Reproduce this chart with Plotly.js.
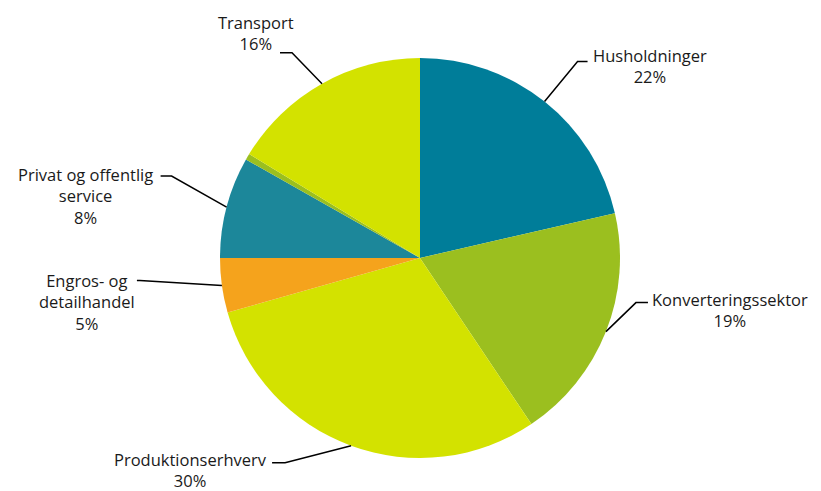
<!DOCTYPE html>
<html>
<head>
<meta charset="utf-8">
<script src="https://cdn.plot.ly/plotly-3.0.1.min.js"></script>
<style>html,body{margin:0;padding:0;background:#fff;}#chart{width:821px;height:491px;}</style>
</head>
<body>
<div id="chart"></div>
<script>
// Data (clockwise from 12 o'clock)
const categories = ["Husholdninger", "Konverteringssektor", "Produktionserhverv", "Engros- og<br>detailhandel", "Privat og offentlig<br>service", "Øvrige", "Transport"];
const values = [21.4, 19.2, 30.0, 4.4, 8.2, 0.5, 16.3];
const pctLabels = ["22%", "19%", "30%", "5%", "8%", "", "16%"];
const showLabel = [true, true, true, true, true, false, true];

// Styles
const colors = ["#007d99", "#9bbf1f", "#d3e200", "#f5a31c", "#1c879a", "#9bbf1f", "#d3e200"];
const W = 821, H = 491;
const cx = 420, cy = 258, R = 200;
// label layout: elbow offset from slice edge, horizontal tail, text centre (pixels)
const labelLayout = [
  {ex: 33, ey: -40, tail: 10, tx: 650, ty: 66},
  {ex: 30, ey: -29, tail: 12, tx: 730, ty: 310},
  {ex: -66, ey: 17, tail: -13, tx: 190, ty: 470},
  {ex: -82, ey: -5, tail: -3, tx: 87, ty: 302},
  {ex: -55, ey: -31, tail: -11, tx: 85, ty: 196},
  null,
  {ex: -30, ey: -31, tail: -12, tx: 256, ty: 33}
];

const px = x => x / W;
const py = y => 1 - y / H;

const total = values.reduce((a, b) => a + b, 0);
let cum = 0;
const shapes = [], annotations = [];
values.forEach((v, i) => {
  const mid = (cum + v / 2) / total * 2 * Math.PI;
  cum += v;
  if (!showLabel[i]) return;
  const L = labelLayout[i];
  const x0 = cx + R * Math.sin(mid), y0 = cy - R * Math.cos(mid);
  const x1 = x0 + L.ex, y1 = y0 + L.ey;
  const x2 = x1 + L.tail;
  shapes.push({type: "path", xref: "paper", yref: "paper",
    path: `M ${px(x0)} ${py(y0)} L ${px(x1)} ${py(y1)} L ${px(x2)} ${py(y1)}`,
    line: {color: "#000", width: 1.5}});
  annotations.push({xref: "paper", yref: "paper", x: px(L.tx), y: py(L.ty),
    xanchor: "center", yanchor: "middle", align: "center", showarrow: false,
    borderpad: 0, text: categories[i] + "<br>" + pctLabels[i]});
});

const trace = {
  type: "pie", values: values, labels: categories, sort: false, direction: "clockwise",
  rotation: 0, textinfo: "none", hoverinfo: "skip",
  marker: {colors: colors, line: {width: 0}},
  domain: {x: [px(cx - R), px(cx + R)], y: [py(cy + R), py(cy - R)]},
  showlegend: false
};

const layout = {
  width: W, height: H, margin: {l: 0, r: 0, t: 0, b: 0},
  paper_bgcolor: "#fff",
  font: {family: "'Open Sans', sans-serif", size: 16.5, color: "#1a1a1a"},
  shapes: shapes, annotations: annotations, showlegend: false
};
Plotly.newPlot("chart", [trace], layout, {displayModeBar: false, staticPlot: true});
</script>
</body>
</html>
